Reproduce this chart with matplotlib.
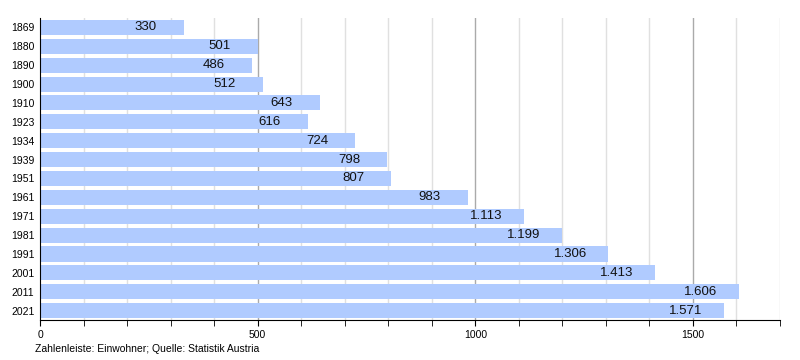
import matplotlib
matplotlib.use("Agg")
import matplotlib.pyplot as plt
from matplotlib.ticker import MultipleLocator

plt.rcParams["font.family"] = ["Liberation Sans", "DejaVu Sans"]

YEARS = ["1869", "1880", "1890", "1900", "1910", "1923", "1934", "1939",
         "1951", "1961", "1971", "1981", "1991", "2001", "2011", "2021"]
POP = [330, 501, 486, 512, 643, 616, 724, 798, 807, 983, 1113, 1199,
       1306, 1413, 1606, 1571]
LABELS = ["330", "501", "486", "512", "643", "616", "724", "798", "807",
          "983", "1.113", "1.199", "1.306", "1.413", "1.606", "1.571"]
NOTE = "Zahlenleiste: Einwohner; Quelle: Statistik Austria"

fig = plt.figure(figsize=(8, 3.6), dpi=100)
ax = fig.add_axes([0.05, 0.111, 0.925, 0.839])

pos = list(range(len(YEARS)))
ax.barh(pos, POP, height=0.8, color="#b0cbff", zorder=2)
ax.set_ylim(len(YEARS) - 0.5, -0.5)
ax.set_xlim(0, 1700)

# grid: light every 100, darker every 500
for x in range(100, 1701, 100):
    c = "#aaaaaa" if x % 500 == 0 else "#e0e0e0"
    ax.axvline(x, color=c, lw=1, zorder=1)

for p, v, t in zip(pos, POP, LABELS):
    ax.annotate(t, (v, p), xytext=(-27.5, 0), textcoords="offset points",
                ha="center", va="center", fontsize=9.5, color="#111111", zorder=3)

ax.set_yticks(pos)
ax.set_yticklabels(YEARS, fontsize=7.5)
ax.tick_params(axis="y", length=0, pad=4)
ax.xaxis.set_major_locator(MultipleLocator(500))
ax.xaxis.set_minor_locator(MultipleLocator(100))
ax.tick_params(axis="x", which="both", length=4, direction="out", labelsize=7.5, pad=3)
for s in ("top", "right"):
    ax.spines[s].set_visible(False)
ax.spines["left"].set_color("black")
ax.spines["bottom"].set_color("black")

fig.text(0.044, 0.03, NOTE, fontsize=7.5, ha="left", va="center")
fig.savefig("out.png", dpi=100)
